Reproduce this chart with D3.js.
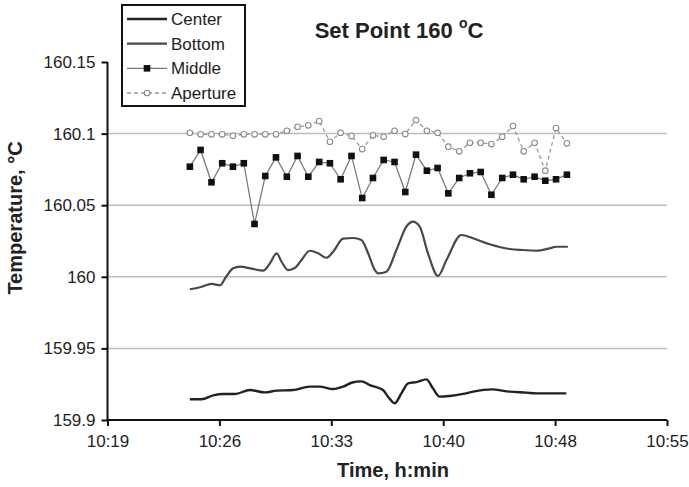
<!DOCTYPE html>
<html><head><meta charset="utf-8">
<script src="https://cdn.jsdelivr.net/npm/d3@7"></script>
<style>body{margin:0;background:#fff}svg{display:block;font-family:Arial,"Liberation Sans",sans-serif}</style>
</head><body><svg id="c" width="689" height="487"></svg>
<script>
// time in minutes after midnight
const xTickValues = [619.2, 626.4, 633.6, 640.8, 648.0, 655.2];
const xTickLabels = ["10:19","10:26","10:33","10:40","10:48","10:55"];
const yTickValues = [159.9, 159.95, 160, 160.05, 160.1, 160.15];
const yTickLabels = ["159.9","159.95","160","160.05","160.1","160.15"];
const gridValues = [159.95, 160, 160.05, 160.1];

const pointTimes = [624.50,625.19,625.89,626.58,627.27,627.97,628.66,629.35,630.04,630.74,631.43,632.12,
  632.82,633.51,634.20,634.90,635.59,636.28,636.97,637.67,638.36,639.05,639.75,640.44,641.13,641.83,
  642.52,643.21,643.90,644.60,645.29,645.98,646.68,647.37,648.06,648.76];
const middleValues = [160.0769,160.0886,160.0660,160.0793,160.0769,160.0793,160.0369,160.0704,160.0834,
  160.0699,160.0844,160.0699,160.0802,160.0793,160.0681,160.0844,160.0550,160.0690,160.0816,160.0802,
  160.0592,160.0853,160.0741,160.0760,160.0583,160.0690,160.0723,160.0732,160.0573,160.0690,160.0713,
  160.0681,160.0699,160.0671,160.0681,160.0713];
const apertureValues = [160.1006,160.0995,160.0995,160.0995,160.0985,160.0995,160.0995,160.0995,160.0995,
  160.1020,160.1048,160.1058,160.1088,160.0943,160.1006,160.0983,160.0892,160.0988,160.0978,160.1020,
  160.0997,160.1095,160.1020,160.1006,160.0909,160.0876,160.0936,160.0936,160.0927,160.0978,160.1053,
  160.0876,160.0936,160.0741,160.1039,160.0932];

const bottomTimes = [624.50,625.15,625.90,626.45,626.77,627.29,627.73,628.47,629.22,629.65,630.08,630.40,
  630.82,631.25,631.68,632.21,632.75,633.29,633.72,634.36,635.00,635.54,635.97,636.40,636.61,637.15,
  637.79,638.43,638.86,639.29,639.82,640.47,641.01,641.97,642.72,643.79,645.08,645.93,646.79,647.65,
  648.08,648.82];
const bottomValues = [159.9913,159.9927,159.9950,159.9941,159.9990,160.0059,160.0071,160.0057,160.0043,
  160.0094,160.0164,160.0105,160.0047,160.0061,160.0117,160.0182,160.0164,160.0133,160.0175,160.0266,
  160.0271,160.0257,160.0164,160.0047,160.0024,160.0036,160.0187,160.0350,160.0385,160.0350,160.0164,
  160.0006,160.0117,160.0292,160.0269,160.0227,160.0194,160.0187,160.0182,160.0199,160.0210,160.0210];

const centerTimes = [624.50,625.26,626.00,626.64,627.40,628.36,629.33,630.08,631.14,632.21,632.85,633.71,
  634.36,634.90,635.54,636.08,636.93,637.25,637.68,638.11,638.54,639.08,639.72,640.14,640.57,641.21,
  642.07,642.72,643.90,645.08,646.16,646.79,648.72];
const centerValues = [159.9145,159.9145,159.9172,159.9182,159.9182,159.9209,159.9193,159.9205,159.9209,
  159.9233,159.9233,159.9216,159.9233,159.9260,159.9270,159.9244,159.9209,159.9163,159.9117,159.9186,
  159.9256,159.9265,159.9284,159.9221,159.9163,159.9168,159.9182,159.9198,159.9214,159.9198,159.9191,
  159.9186,159.9186];

const seriesNames = ["Center","Bottom","Middle","Aperture"];
const titleText = "Set Point 160 ";
const xTitle = "Time, h:min";
const yTitle = "Temperature, °C";

const svg = d3.select("#c");
const L = 107.5, R = 667, T = 62, B = 420;
const x = d3.scaleLinear().domain([619.2, 655.2]).range([L, R]);
const y = d3.scaleLinear().domain([159.9, 160.15]).range([B, T]);

// gridlines
svg.append("g").selectAll("line").data(gridValues).join("line")
  .attr("x1", L).attr("x2", R).attr("y1", d => y(d)).attr("y2", d => y(d))
  .attr("stroke", "#bdbdbd").attr("stroke-width", 1.5);

// axes
const xAxis = d3.axisBottom(x).tickValues(xTickValues).tickSize(6).tickPadding(6)
  .tickFormat((d, i) => xTickLabels[i]);
const gx = svg.append("g").attr("transform", `translate(0,${B})`).call(xAxis);
gx.select(".domain").attr("stroke", "#111").attr("stroke-width", 2).attr("d", `M${L},0H${R}`);
gx.selectAll(".tick line").attr("stroke", "#111").attr("stroke-width", 2);
gx.selectAll("text").attr("font-size", 17).attr("fill", "#222").attr("dy", "0.9em");

const yAxis = d3.axisLeft(y).tickValues(yTickValues).tickSize(6).tickPadding(6)
  .tickFormat((d, i) => yTickLabels[i]);
const gy = svg.append("g").attr("transform", `translate(${L},0)`).call(yAxis);
gy.select(".domain").attr("stroke", "#111").attr("stroke-width", 2).attr("d", `M0,${T}V${B}`);
gy.selectAll(".tick line").attr("stroke", "#111").attr("stroke-width", 2);
gy.selectAll("text").attr("font-size", 17).attr("fill", "#222");

// lines
const toPts = (ts, vs) => ts.map((t, i) => [t, vs[i]]);
const lineSmooth = d3.line().x(d => x(d[0])).y(d => y(d[1])).curve(d3.curveMonotoneX);
const lineStraight = d3.line().x(d => x(d[0])).y(d => y(d[1]));

const centerPts = toPts(centerTimes, centerValues);
const bottomPts = toPts(bottomTimes, bottomValues);
const middlePts = toPts(pointTimes, middleValues);
const aperturePts = toPts(pointTimes, apertureValues);

svg.append("path").attr("d", lineSmooth(centerPts)).attr("fill", "none")
  .attr("stroke", "#222").attr("stroke-width", 2.4);
svg.append("path").attr("d", lineSmooth(bottomPts)).attr("fill", "none")
  .attr("stroke", "#484848").attr("stroke-width", 2.2);

svg.append("path").attr("d", lineStraight(aperturePts)).attr("fill", "none")
  .attr("stroke", "#9a9a9a").attr("stroke-width", 1.3).attr("stroke-dasharray", "4,3");
svg.append("g").selectAll("circle").data(aperturePts).join("circle")
  .attr("cx", d => x(d[0])).attr("cy", d => y(d[1])).attr("r", 2.8)
  .attr("fill", "#fff").attr("stroke", "#8a8a8a").attr("stroke-width", 1.1);

svg.append("path").attr("d", lineStraight(middlePts)).attr("fill", "none")
  .attr("stroke", "#7a7a7a").attr("stroke-width", 1.3);
svg.append("g").selectAll("rect").data(middlePts).join("rect")
  .attr("x", d => x(d[0]) - 3.3).attr("y", d => y(d[1]) - 3.3)
  .attr("width", 6.6).attr("height", 6.6).attr("fill", "#111");

// titles
const tt = svg.append("text").attr("x", 399).attr("y", 38).attr("text-anchor", "middle")
  .attr("font-size", 22).attr("font-weight", "bold").attr("fill", "#222");
tt.append("tspan").text(titleText);
tt.append("tspan").text("o").attr("font-size", 14).attr("dy", -10);
tt.append("tspan").text("C").attr("dy", 10);

svg.append("text").attr("x", 393).attr("y", 477).attr("text-anchor", "middle")
  .attr("font-size", 20).attr("font-weight", "bold").attr("fill", "#222").text(xTitle);
svg.append("text").attr("transform", "translate(22,218) rotate(-90)").attr("text-anchor", "middle")
  .attr("font-size", 20).attr("font-weight", "bold").attr("fill", "#222").text(yTitle);

// legend
const lg = svg.append("g");
lg.append("rect").attr("x", 122).attr("y", 5).attr("width", 123).attr("height", 101)
  .attr("fill", "#fff").attr("stroke", "#111").attr("stroke-width", 2);
const ly = d3.scalePoint().domain(seriesNames).range([19, 93]);
const lx0 = 127, lx1 = 167;
seriesNames.forEach(n => {
  const yy = ly(n);
  const ln = lg.append("line").attr("x1", lx0).attr("x2", lx1).attr("y1", yy).attr("y2", yy);
  if (n === "Center") ln.attr("stroke", "#222").attr("stroke-width", 2.4);
  if (n === "Bottom") ln.attr("stroke", "#484848").attr("stroke-width", 2.2);
  if (n === "Middle") {
    ln.attr("stroke", "#7a7a7a").attr("stroke-width", 1.3);
    lg.append("rect").attr("x", (lx0 + lx1) / 2 - 3.3).attr("y", yy - 3.3).attr("width", 6.6).attr("height", 6.6).attr("fill", "#111");
  }
  if (n === "Aperture") {
    ln.attr("stroke", "#9a9a9a").attr("stroke-width", 1.3).attr("stroke-dasharray", "4,3");
    lg.append("circle").attr("cx", (lx0 + lx1) / 2).attr("cy", yy).attr("r", 2.8).attr("fill", "#fff").attr("stroke", "#8a8a8a").attr("stroke-width", 1.1);
  }
  lg.append("text").attr("x", 171).attr("y", yy).attr("dy", "0.35em")
    .attr("font-size", 17).attr("fill", "#222").text(n);
});
</script></body></html>
